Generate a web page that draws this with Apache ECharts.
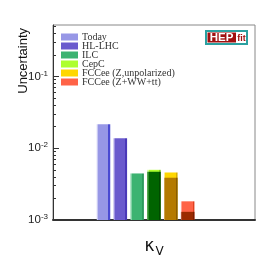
<!DOCTYPE html>
<html>
<head>
<meta charset="utf-8">
<script src="https://cdn.jsdelivr.net/npm/echarts@6/dist/echarts.min.js"></script>
<style>
html,body{margin:0;padding:0;background:#fff;}
#c{width:263px;height:263px;}
</style>
</head>
<body>
<div id="c"></div>
<script>
// ---- data ----
const categories = ['Today', 'HL-LHC', 'ILC', 'CepC', 'FCCee (Z,unpolarized)', 'FCCee (Z+WW+tt)'];
const totalUncertainty = [0.0215, 0.0138, 0.00445, 0.0050, 0.00459, 0.00182];
const innerUncertainty = [null, null, null, 0.0047, 0.00388, 0.0013];
const slotsBefore = 3;
const slotsAfter = 4;
const yMajorTicks = [0.001, 0.01, 0.1];
const yMinorTicks = [0.002, 0.003, 0.004, 0.005, 0.006, 0.007, 0.008, 0.009,
                     0.02, 0.03, 0.04, 0.05, 0.06, 0.07, 0.08, 0.09,
                     0.2, 0.3, 0.4, 0.5];
const yMin = 0.001, yMax = 0.52;

// ---- styles ----
const baseColors  = ['#9797e6', '#6a5acd', '#3cb371', '#adff2f', '#ffd700', '#ff6347'];
const lightEdges  = ['#c8c8f2', '#9c90e0', '#7fd0a3', '#d0ff90', '#ffeb80', '#ffa090'];
const darkEdges   = ['#4a4ad2', '#4a38b8', '#2c9a5c', '#86d020', '#d8b000', '#e04020'];
const innerColors = [null, null, null, '#006400', '#b47a00', '#9a2a00'];
const innerLight  = [null, null, null, '#2a8a2a', '#c99a40', '#b05030'];
const innerDark   = [null, null, null, '#004a00', '#8a5c00', '#7a1e00'];

function grad(l, b, d) {
  return new echarts.graphic.LinearGradient(0, 0, 1, 0, [
    {offset: 0, color: l}, {offset: 0.1, color: l},
    {offset: 0.1, color: b}, {offset: 0.86, color: b},
    {offset: 0.86, color: d}, {offset: 1, color: d}
  ]);
}

const slots = [];
for (let i = 0; i < slotsBefore; i++) slots.push('');
categories.forEach(c => slots.push(c));
for (let i = 0; i < slotsAfter; i++) slots.push('');

function slotData(i, v) {
  return slots.map((s, k) => (k === slotsBefore + i && v != null) ? v : '-');
}

const series = [];
categories.forEach((name, i) => {
  series.push({
    name: name, type: 'bar', barWidth: 13.5, barGap: '-100%',
    data: slotData(i, totalUncertainty[i]),
    itemStyle: {color: grad(lightEdges[i], baseColors[i], darkEdges[i])},
    z: 2
  });
});
categories.forEach((name, i) => {
  if (innerUncertainty[i] == null) return;
  series.push({
    name: name + ' inner', type: 'bar', barWidth: 13.5, barGap: '-100%',
    data: slotData(i, innerUncertainty[i]),
    itemStyle: {color: grad(innerLight[i], innerColors[i], innerDark[i])},
    z: 3
  });
});

const chart = echarts.init(document.getElementById('c'), null, {renderer: 'canvas'});
chart.setOption({
  animation: false,
  backgroundColor: '#fff',
  color: baseColors,
  grid: {left: 53, right: 8, top: 25, bottom: 40, show: true, borderColor: '#888', borderWidth: 1, backgroundColor: 'transparent'},
  legend: {
    data: categories.map(c => ({name: c, itemStyle: {color: baseColors[categories.indexOf(c)]}})),
    orient: 'vertical', left: 61, top: 32, padding: 0, itemGap: -1,
    itemWidth: 17, itemHeight: 7, icon: 'rect',
    textStyle: {fontFamily: 'Liberation Serif', fontSize: 10, color: '#333', lineHeight: 9.2, padding: [0, 0, 0, -1]}
  },
  xAxis: {
    type: 'category', data: slots, boundaryGap: false,
    axisLine: {show: true, lineStyle: {color: '#333', width: 2}},
    axisTick: {show: false}, axisLabel: {show: false}, splitLine: {show: false},
    name: '{k|κ}{s|V}', nameLocation: 'middle', nameGap: 17,
    nameTextStyle: {
      rich: {
        k: {fontFamily: 'DejaVu Sans', fontSize: 17, color: '#111', verticalAlign: 'bottom', lineHeight: 18},
        s: {fontFamily: 'DejaVu Sans', fontSize: 12, color: '#111', verticalAlign: 'top', lineHeight: 18, padding: [9, 0, 0, 1]}
      }
    }
  },
  yAxis: [{
    type: 'log', logBase: 10, min: yMin, max: yMax, startValue: yMin,
    axisLine: {show: true, lineStyle: {color: '#333', width: 1}},
    axisTick: {show: true, inside: true, length: 6, customValues: yMajorTicks, lineStyle: {color: '#333'}},
    axisLabel: {
      customValues: yMajorTicks, margin: 5,
      formatter: v => '{b|10}{s|' + Math.round(Math.log10(v)) + '}',
      rich: {
        b: {fontFamily: 'Liberation Sans', fontSize: 11.5, color: '#222', verticalAlign: 'middle', lineHeight: 14},
        s: {fontFamily: 'Liberation Sans', fontSize: 8, color: '#222', verticalAlign: 'top', lineHeight: 14, padding: [0, 0, 4, 0]}
      }
    },
    splitLine: {show: false}
  }, {
    type: 'log', logBase: 10, min: yMin, max: yMax, position: 'left', offset: 0,
    axisLine: {show: false},
    axisTick: {show: true, inside: true, length: 3, customValues: yMinorTicks, lineStyle: {color: '#333'}},
    axisLabel: {show: false}, splitLine: {show: false}
  }],
  series: series,
  graphic: [
    {
      type: 'text', x: 23, y: 28, rotation: Math.PI / 2,
      style: {text: 'Uncertainty', fontFamily: 'Liberation Sans', fontSize: 13, fill: '#111', align: 'right', verticalAlign: 'middle'}
    },
    {
      type: 'group', x: 206, y: 31,
      children: [
        {type: 'rect', shape: {x: 0, y: 0, width: 41, height: 13}, style: {fill: '#fff', stroke: '#2aa0a0', lineWidth: 2}},
        {type: 'rect', shape: {x: 1.5, y: 1.5, width: 28.5, height: 10}, style: {fill: '#a01010'}},
        {type: 'text', x: 15.5, y: 7, style: {text: 'HEP', fontFamily: 'Liberation Sans', fontWeight: 'bold', fontSize: 11.5, fill: '#fff', align: 'center', verticalAlign: 'middle'}},
        {type: 'text', x: 35.5, y: 7.5, style: {text: 'fit', fontFamily: 'Liberation Sans', fontWeight: 'bold', fontSize: 9, fill: '#a01010', align: 'center', verticalAlign: 'middle'}}
      ]
    }
  ]
});
</script>
</body>
</html>
